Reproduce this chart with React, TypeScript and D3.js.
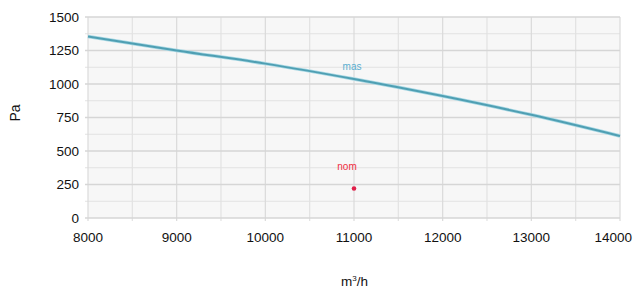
// @ts-nocheck
import React, { useEffect, useRef } from "react";
import * as d3 from "d3";

const flow = [8000, 9000, 10000, 11000, 12000, 13000, 14000];
const pressure = [1355, 1250, 1152, 1037, 910, 770, 612];
const nomPoint = { flow: 11000, pressure: 220 };
const xTicks = [8000, 9000, 10000, 11000, 12000, 13000, 14000];
const yTicks = [0, 250, 500, 750, 1000, 1250, 1500];

function App() {
  const ref = useRef(null);

  useEffect(() => {
    const width = 634,
      height = 293;
    const margin = { top: 17, right: 14, bottom: 75, left: 88 };

    const svg = d3.select(ref.current);
    svg.selectAll("*").remove();
    svg.attr("width", width).attr("height", height);

    const x = d3
      .scaleLinear()
      .domain([8000, 14000])
      .range([margin.left, width - margin.right]);
    const y = d3
      .scaleLinear()
      .domain([0, 1500])
      .range([height - margin.bottom, margin.top]);

    const font = "'Liberation Sans', Arial, sans-serif";

    // plot background
    svg
      .append("rect")
      .attr("x", x(8000))
      .attr("y", y(1500))
      .attr("width", x(14000) - x(8000))
      .attr("height", y(0) - y(1500))
      .attr("fill", "#f7f7f7");

    // minor horizontal lines
    svg
      .append("g")
      .selectAll("line")
      .data(d3.range(125, 1500, 250))
      .enter()
      .append("line")
      .attr("x1", x(8000) - 3)
      .attr("x2", x(14000))
      .attr("y1", (d) => y(d))
      .attr("y2", (d) => y(d))
      .attr("stroke", "#e2e2e2")
      .attr("stroke-width", 1.2);

    // vertical lines every 500
    svg
      .append("g")
      .selectAll("line")
      .data(d3.range(8000, 14001, 500))
      .enter()
      .append("line")
      .attr("x1", (d) => x(d))
      .attr("x2", (d) => x(d))
      .attr("y1", y(1500))
      .attr("y2", y(0) + 3)
      .attr("stroke", (d) => (d % 1000 === 0 ? "#dadada" : "#e2e2e2"))
      .attr("stroke-width", 1.2);

    // major horizontal lines
    svg
      .append("g")
      .selectAll("line")
      .data(yTicks)
      .enter()
      .append("line")
      .attr("x1", x(8000) - 3)
      .attr("x2", x(14000))
      .attr("y1", (d) => y(d))
      .attr("y2", (d) => y(d))
      .attr("stroke", "#d6d6d6")
      .attr("stroke-width", 1.4);

    // y tick labels
    svg
      .append("g")
      .selectAll("text")
      .data(yTicks)
      .enter()
      .append("text")
      .attr("x", 79)
      .attr("y", (d) => y(d) + 4.5)
      .attr("text-anchor", "end")
      .style("font-family", font)
      .style("font-size", "13.5px")
      .attr("fill", "#111")
      .text((d) => d);

    // x tick labels (last one pulled inside the frame)
    svg
      .append("g")
      .selectAll("text")
      .data(xTicks)
      .enter()
      .append("text")
      .attr("x", (d, i) => (i === xTicks.length - 1 ? width - 2 : x(d)))
      .attr("y", 241.5)
      .attr("text-anchor", (d, i) => (i === xTicks.length - 1 ? "end" : "middle"))
      .style("font-family", font)
      .style("font-size", "13.5px")
      .attr("fill", "#111")
      .text((d) => d);

    // axis titles
    svg
      .append("text")
      .attr("transform", "translate(20,113) rotate(-90)")
      .attr("text-anchor", "middle")
      .style("font-family", font)
      .style("font-size", "14px")
      .attr("fill", "#111")
      .text("Pa");

    const xt = svg
      .append("text")
      .attr("x", 341)
      .attr("y", 286)
      .style("font-family", font)
      .style("font-size", "13.5px")
      .attr("fill", "#111");
    xt.append("tspan").text("m");
    xt.append("tspan").attr("dy", -5).style("font-size", "8px").text("3");
    xt.append("tspan").attr("dy", 5).text("/h");

    // curve
    const line = d3
      .line()
      .x((d, i) => x(flow[i]))
      .y((d) => y(d))
      .curve(d3.curveMonotoneX);

    svg
      .append("path")
      .datum(pressure)
      .attr("d", line)
      .attr("fill", "none")
      .attr("stroke", "#a8d8e4")
      .attr("stroke-width", 3.5);
    svg
      .append("path")
      .datum(pressure)
      .attr("d", line)
      .attr("fill", "none")
      .attr("stroke", "#4f9fb3")
      .attr("stroke-width", 2);

    svg
      .append("text")
      .attr("x", x(11000) - 2)
      .attr("y", y(1130) + 3)
      .attr("text-anchor", "middle")
      .style("font-family", font)
      .style("font-size", "10px")
      .attr("fill", "#5aaed0")
      .text("mas");

    // nominal point
    svg
      .append("text")
      .attr("x", x(nomPoint.flow) - 7)
      .attr("y", y(nomPoint.pressure) - 19)
      .attr("text-anchor", "middle")
      .style("font-family", font)
      .style("font-size", "10px")
      .attr("fill", "#f0303f")
      .text("nom");
    svg
      .append("circle")
      .attr("cx", x(nomPoint.flow))
      .attr("cy", y(nomPoint.pressure))
      .attr("r", 2.3)
      .attr("fill", "#e0204a");
  }, []);

  return (
    <div style={{ position: "absolute", left: 0, top: 0 }}>
      <svg ref={ref}></svg>
    </div>
  );
}

export default App;
